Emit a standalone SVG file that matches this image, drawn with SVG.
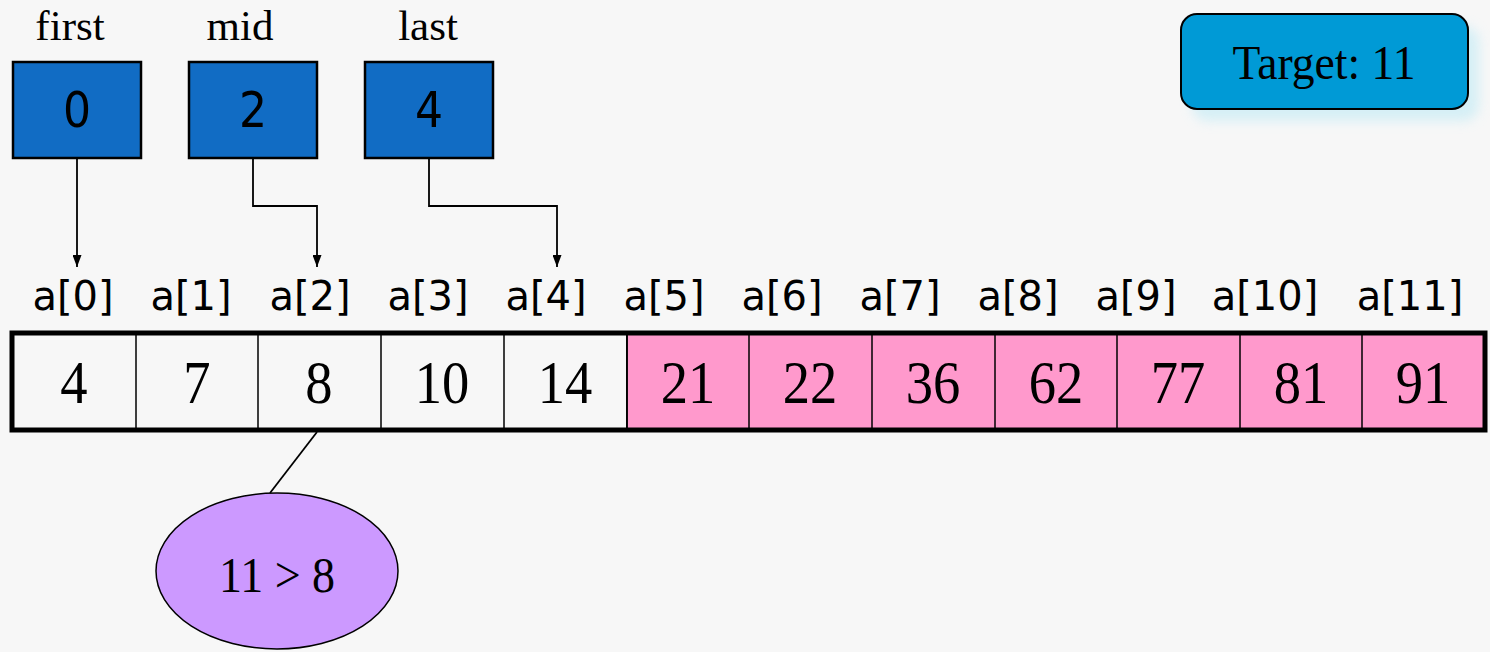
<svg xmlns="http://www.w3.org/2000/svg" width="1490" height="652" viewBox="0 0 1490 652">
<defs>
<style>
.lbl{font-family:"Liberation Serif","Times New Roman",serif;font-size:43px;fill:#000;text-anchor:middle}
.ptr{fill:#116cc4;stroke:#000;stroke-width:2.5}
.ptxt{font-family:"DejaVu Sans Condensed","DejaVu Sans",sans-serif;font-size:49px;fill:#000;text-anchor:middle}
.idx{font-family:"DejaVu Sans","Verdana",sans-serif;font-size:40px;fill:#000;text-anchor:middle}
.num{font-family:"Liberation Serif","Times New Roman",serif;font-size:62px;fill:#000;text-anchor:middle}
.cell{stroke:#000;stroke-width:1.5}
.conn{fill:none;stroke:#000;stroke-width:1.8}
</style>
<marker id="arr" viewBox="0 0 12 9" refX="12" refY="4.5" markerWidth="12" markerHeight="9" markerUnits="userSpaceOnUse" orient="auto">
<path d="M0,0 L12,4.5 L0,9 z" fill="#000"/>
</marker>
<filter id="sh" x="-20%" y="-20%" width="140%" height="160%"><feGaussianBlur stdDeviation="6"/></filter>
</defs>
<rect width="1490" height="652" fill="#f7f7f7"/>

<g id="first">
<text class="lbl" x="70" y="40">first</text>
<rect class="ptr" x="13" y="62" width="128" height="96"/>
<text class="ptxt" x="77" y="127">0</text>
</g>
<g id="mid">
<text class="lbl" x="240" y="40">mid</text>
<rect class="ptr" x="189" y="62" width="128" height="96"/>
<text class="ptxt" x="253" y="127">2</text>
</g>
<g id="last">
<text class="lbl" x="428" y="40">last</text>
<rect class="ptr" x="365" y="62" width="128" height="96"/>
<text class="ptxt" x="429" y="127">4</text>
</g>

<g id="target">
<rect x="1192" y="26" width="287" height="95" rx="16" fill="#bfeaf5" opacity="0.6" filter="url(#sh)"/>
<rect x="1181" y="14" width="287" height="95" rx="16" fill="#009ad6" stroke="#000" stroke-width="2"/>
<text transform="translate(1324,79) scale(0.95,1)" font-family="Liberation Serif, Times New Roman, serif" font-size="48" text-anchor="middle">Target: 11</text>
</g>

<g id="indices">
<text class="idx" x="73" y="310">a[0]</text>
<text class="idx" x="191" y="310">a[1]</text>
<text class="idx" x="310" y="310">a[2]</text>
<text class="idx" x="428" y="310">a[3]</text>
<text class="idx" x="546" y="310">a[4]</text>
<text class="idx" x="664" y="310">a[5]</text>
<text class="idx" x="782" y="310">a[6]</text>
<text class="idx" x="900" y="310">a[7]</text>
<text class="idx" x="1018" y="310">a[8]</text>
<text class="idx" x="1136" y="310">a[9]</text>
<text class="idx" x="1265" y="310">a[10]</text>
<text class="idx" x="1410" y="310">a[11]</text>
</g>

<g id="array">
<rect class="cell" x="12" y="333" width="615" height="97" fill="#f7f7f7"/>
<rect class="cell" x="627" y="333" width="858" height="97" fill="#ff99cc"/>
<g stroke="#000" stroke-width="1.5">
<line x1="136" y1="333" x2="136" y2="430"/>
<line x1="258" y1="333" x2="258" y2="430"/>
<line x1="381" y1="333" x2="381" y2="430"/>
<line x1="504" y1="333" x2="504" y2="430"/>
<line x1="627" y1="333" x2="627" y2="430"/>
<line x1="749" y1="333" x2="749" y2="430"/>
<line x1="872" y1="333" x2="872" y2="430"/>
<line x1="995" y1="333" x2="995" y2="430"/>
<line x1="1117" y1="333" x2="1117" y2="430"/>
<line x1="1240" y1="333" x2="1240" y2="430"/>
<line x1="1362" y1="333" x2="1362" y2="430"/>
</g>
<rect x="12" y="333" width="1473" height="97" fill="none" stroke="#000" stroke-width="5"/>
<text class="num" transform="translate(74,403) scale(0.88,1)">4</text>
<text class="num" transform="translate(197,403) scale(0.88,1)">7</text>
<text class="num" transform="translate(319,403) scale(0.88,1)">8</text>
<text class="num" transform="translate(442,403) scale(0.88,1)">10</text>
<text class="num" transform="translate(565,403) scale(0.88,1)">14</text>
<text class="num" transform="translate(688,403) scale(0.88,1)">21</text>
<text class="num" transform="translate(810,403) scale(0.88,1)">22</text>
<text class="num" transform="translate(933,403) scale(0.88,1)">36</text>
<text class="num" transform="translate(1056,403) scale(0.88,1)">62</text>
<text class="num" transform="translate(1178,403) scale(0.88,1)">77</text>
<text class="num" transform="translate(1301,403) scale(0.88,1)">81</text>
<text class="num" transform="translate(1423,403) scale(0.88,1)">91</text>
</g>

<g id="compare">
<ellipse cx="277" cy="571" rx="121" ry="78" fill="#cc99ff" stroke="#000" stroke-width="1.5"/>
<text transform="translate(277,592) scale(0.92,1)" font-family="Liberation Serif, Times New Roman, serif" font-size="50" text-anchor="middle">11 &gt; 8</text>
</g>

<g id="connectors">
<path class="conn" d="M77,158 V267" marker-end="url(#arr)"/>
<path class="conn" d="M253,158 V206 H317 V267" marker-end="url(#arr)"/>
<path class="conn" d="M429,158 V206 H557 V267" marker-end="url(#arr)"/>
<path class="conn" d="M317,432 L270,493"/>
</g>
</svg>
